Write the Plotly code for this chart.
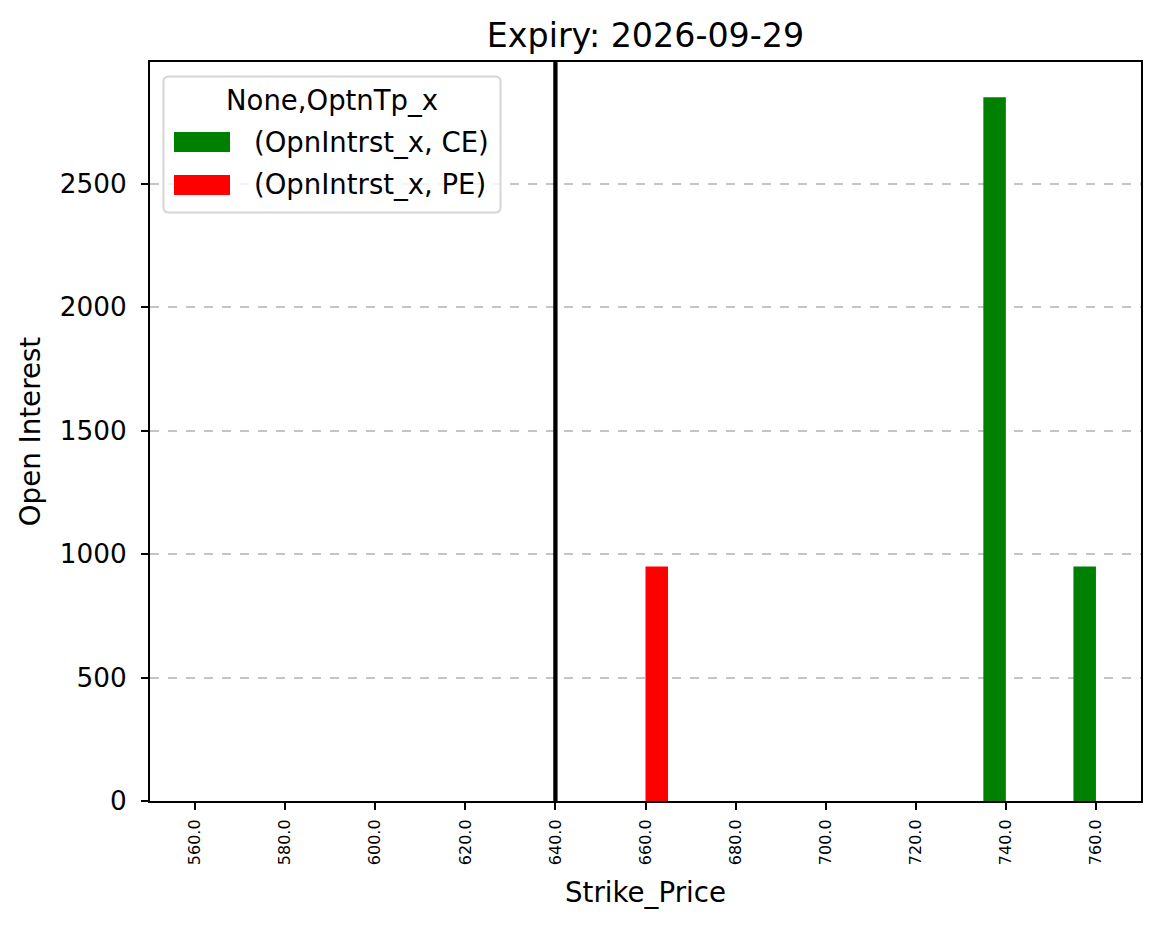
import plotly.graph_objects as go

strikes = ["560.0", "580.0", "600.0", "620.0", "640.0", "660.0", "680.0",
           "700.0", "720.0", "740.0", "760.0"]
ce_oi = [None, None, None, None, None, None, None, None, None, 2850, 950]
pe_oi = [None, None, None, None, None, 950, None, None, None, None, None]
spot_strike = "640.0"
y_ticks = [0, 500, 1000, 1500, 2000, 2500]
title_text = "Expiry: 2026-09-29"
legend_title = "None,OptnTp_x"
series_names = ["(OpnIntrst_x, CE)", "(OpnIntrst_x, PE)"]
series_colors = ["#008000", "#ff0000"]

FONT = "DejaVu Sans"
W, H = 1161, 928
L, R, T, B = 150, 20, 62, 127
PW, PH = W - L - R, H - T - B


def px_x(p):
    return (p - L) / PW


def px_y(p):
    return (H - B - p) / PH


fig = go.Figure()
for vals, name, col in zip([ce_oi, pe_oi], series_names, series_colors):
    fig.add_trace(go.Bar(x=strikes, y=vals, name=name, showlegend=False,
                         marker=dict(color=col, line=dict(width=0))))

spot_idx = strikes.index(spot_strike)
fig.add_shape(type="line", xref="x", yref="paper", x0=spot_idx, x1=spot_idx,
              y0=0, y1=1, line=dict(color="black", width=4.3), layer="above")

# legend box (rounded) drawn in paper coordinates
bx0, bx1, by0, by1 = 163.5, 500.5, 76.5, 212.5
r = 5
path = (f"M {px_x(bx0 + r)},{px_y(by0)} L {px_x(bx1 - r)},{px_y(by0)} "
        f"Q {px_x(bx1)},{px_y(by0)} {px_x(bx1)},{px_y(by0 + r)} "
        f"L {px_x(bx1)},{px_y(by1 - r)} "
        f"Q {px_x(bx1)},{px_y(by1)} {px_x(bx1 - r)},{px_y(by1)} "
        f"L {px_x(bx0 + r)},{px_y(by1)} "
        f"Q {px_x(bx0)},{px_y(by1)} {px_x(bx0)},{px_y(by1 - r)} "
        f"L {px_x(bx0)},{px_y(by0 + r)} "
        f"Q {px_x(bx0)},{px_y(by0)} {px_x(bx0 + r)},{px_y(by0)} Z")
fig.add_shape(type="path", xref="paper", yref="paper", path=path,
              fillcolor="rgba(255,255,255,0.8)", line=dict(color="#d5d5d5", width=2),
              layer="above")
fig.add_annotation(xref="paper", yref="paper", x=px_x((bx0 + bx1) / 2), y=px_y(100),
                   text=legend_title, showarrow=False, xanchor="center", yanchor="middle",
                   font=dict(size=27.5, family=FONT, color="black"))
for i, (name, col) in enumerate(zip(series_names, series_colors)):
    cy = 142 + i * 43
    fig.add_shape(type="rect", xref="paper", yref="paper",
                  x0=px_x(174), x1=px_x(230), y0=px_y(cy - 10), y1=px_y(cy + 10),
                  fillcolor=col, line=dict(width=0), layer="above")
    fig.add_annotation(xref="paper", yref="paper", x=px_x(252), y=px_y(cy),
                       text=name, showarrow=False, xanchor="left", yanchor="middle",
                       font=dict(size=27.5, family=FONT, color="black"))

fig.update_layout(
    width=W, height=H,
    margin=dict(l=L, r=R, t=T, b=B),
    paper_bgcolor="white", plot_bgcolor="white",
    font=dict(family=FONT, color="black", size=27),
    barmode="group", bargap=0.5, bargroupgap=0,
    title=dict(text=title_text, x=0.5, xref="paper", xanchor="center",
               y=1 - 35 / H, yref="container", yanchor="middle",
               font=dict(size=33.3, family=FONT, color="black")),
    showlegend=False,
)

fig.update_xaxes(
    type="category", range=[-0.5, 10.5],
    showline=True, linecolor="black", linewidth=2, mirror=True,
    ticks="outside", ticklen=7, tickwidth=2, tickcolor="black",
    tickangle=-90, tickfont=dict(size=16, family=FONT),
    ticklabelstandoff=3,
    showgrid=False, zeroline=False,
    title=dict(text="Strike_Price", font=dict(size=27.7, family=FONT), standoff=18),
)
fig.update_yaxes(
    range=[0, 2992.5], tickvals=y_ticks,
    showline=True, linecolor="black", linewidth=2, mirror=True,
    ticks="outside", ticklen=7, tickwidth=2, tickcolor="black",
    tickfont=dict(size=26.3, family=FONT),
    ticklabelstandoff=9,
    showgrid=True, gridcolor="#c4c4c4", gridwidth=1.5, griddash="dash",
    zeroline=False,
    title=dict(text="Open Interest", font=dict(size=27.7, family=FONT), standoff=11),
)

fig.write_html("out.html")
